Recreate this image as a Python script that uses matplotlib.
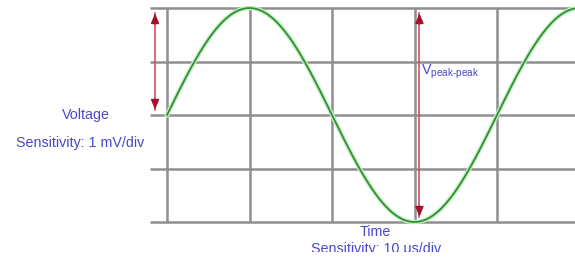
import numpy as np
import matplotlib
matplotlib.use("Agg")
import matplotlib.pyplot as plt
from matplotlib.patches import Rectangle

# Oscilloscope-style diagram, units are screen divisions
amplitude_div = 2.0          # peak amplitude (divisions)
period_div = 4.0             # period (divisions)
x_grid = [0, 1, 2, 3, 4]     # vertical grid divisions
y_grid = [-2, -1, 0, 1, 2]   # horizontal grid divisions
volt_label = "Voltage"
volt_sens = "Sensitivity: 1 mV/div"
time_label = "Time"
time_sens = "Sensitivity: 10 \u03bcs/div"

plt.rcParams['font.family'] = ['Liberation Sans', 'DejaVu Sans']
plt.rcParams['mathtext.fontset'] = 'custom'
plt.rcParams['mathtext.rm'] = 'Liberation Sans'

fig = plt.figure(figsize=(5.75, 2.6), dpi=100)
ax = fig.add_axes([0, 0, 1, 1])
ax.set_xlim(-2.024, 4.945)
ax.set_ylim(-2.71, 2.15)
ax.axis('off')

grid_c = '#8f8f8f'
for yv in y_grid:
    ax.plot([-0.206, 5.2], [yv, yv], color=grid_c, lw=1.8, zorder=1, solid_capstyle='butt')
for xv in x_grid:
    ax.plot([xv, xv], [min(y_grid), max(y_grid)], color=grid_c, lw=1.8, zorder=1, solid_capstyle='butt')

t = np.linspace(0, 5.0, 600)
v = amplitude_div * np.sin(2 * np.pi * t / period_div)
ax.plot(t, v, color='#c4f0c0', lw=3.2, zorder=2)
ax.plot(t, v, color='#2f8f35', lw=1.3, zorder=3)

def arrow(x, y0, y1):
    gap = 0.1
    ax.plot([x, x], [y0 + gap, y1 - gap], color='#d4505e', lw=1.2, zorder=4)
    for tip, d in ((y0 + gap, 1), (y1 - gap, -1)):
        ax.annotate('', xy=(x, tip), xytext=(x, tip + d * 0.2),
                    arrowprops=dict(arrowstyle='-|>,head_length=0.6,head_width=0.25',
                                    color='#a8102a', lw=1.0, shrinkA=0, shrinkB=0),
                    zorder=5)

arrow(-0.145, 0, amplitude_div)
arrow(3.06, -amplitude_div, amplitude_div)

txt_c = '#4747cc'
fs = 10.3
ax.text(-0.985, 0.0, volt_label, color=txt_c, fontsize=fs, ha='center', va='center')
ax.text(-1.055, -0.52, volt_sens, color=txt_c, fontsize=fs, ha='center', va='center')
ax.text(3.08, 0.80, r"V$_{\mathrm{peak\text{-}peak}}$", color=txt_c, fontsize=fs, ha='left', va='center')
ax.text(2.53, -2.18, time_label, color=txt_c, fontsize=fs, ha='center', va='center')
ax.text(2.53, -2.50, time_sens, color=txt_c, fontsize=fs, ha='center', va='center')

# bottom of the picture is cropped
ax.add_patch(Rectangle((0, 0), 1, 8 / 260, transform=ax.transAxes,
                       facecolor='white', edgecolor='none', zorder=10))

fig.savefig('out.png', dpi=100, facecolor='white')
